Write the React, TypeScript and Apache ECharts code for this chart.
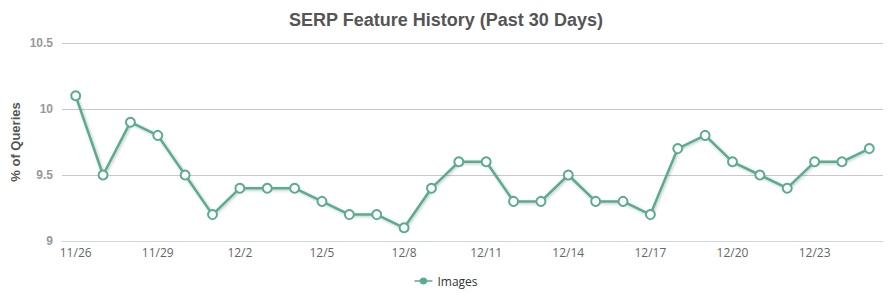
import React, { useEffect, useRef } from "react";
import * as echarts from "echarts";

const dates = [
  "11/26", "11/27", "11/28", "11/29", "11/30", "12/1", "12/2", "12/3", "12/4", "12/5",
  "12/6", "12/7", "12/8", "12/9", "12/10", "12/11", "12/12", "12/13", "12/14", "12/15",
  "12/16", "12/17", "12/18", "12/19", "12/20", "12/21", "12/22", "12/23", "12/24", "12/25",
];
const imagesValues = [
  10.1, 9.5, 9.9, 9.8, 9.5, 9.2, 9.4, 9.4, 9.4, 9.3,
  9.2, 9.2, 9.1, 9.4, 9.6, 9.6, 9.3, 9.3, 9.5, 9.3,
  9.3, 9.2, 9.7, 9.8, 9.6, 9.5, 9.4, 9.6, 9.6, 9.7,
];
const seriesName = "Images";
const titleText = "SERP Feature History (Past 30 Days)";
const yAxisTitle = "% of Queries";

const GREEN = "#5aac8c";
const LEGEND_ICON =
  "path://M0,4.2 L5.2,4.2 A4,4 0 0 1 12.8,4.2 L18,4.2 L18,5.8 L12.8,5.8 A4,4 0 0 1 5.2,5.8 L0,5.8 Z";

export default function App() {
  const ref = useRef<HTMLDivElement>(null);
  useEffect(() => {
    if (!ref.current) return;
    const chart = echarts.init(ref.current, null, { renderer: "svg" });
    chart.setOption({
      animation: false,
      title: {
        text: titleText,
        left: "center",
        top: -2,
        textStyle: {
          fontFamily: "Liberation Sans, Arial, sans-serif",
          fontSize: 18,
          fontWeight: "bold",
          color: "#555555",
        },
      },
      legend: {
        bottom: 4,
        left: "center",
        itemWidth: 18,
        itemHeight: 10,
        itemGap: 6,
        data: [
          {
            name: seriesName,
            icon: LEGEND_ICON,
            itemStyle: { color: GREEN, borderWidth: 0 },
          },
        ],
        textStyle: {
          fontFamily: "Open Sans, Arial, sans-serif",
          fontSize: 12,
          color: "#333333",
        },
      },
      grid: {
        left: 54,
        right: 1,
        top: 35,
        bottom: 55,
        containLabel: false,
        outerBoundsMode: "none",
      },
      xAxis: {
        type: "category",
        data: dates,
        boundaryGap: true,
        axisLine: { lineStyle: { color: "#ccd6eb" } },
        axisTick: {
          alignWithLabel: true,
          interval: 2,
          length: 10,
          lineStyle: { color: "#ccd6eb" },
        },
        axisLabel: {
          interval: 2,
          margin: 5,
          fontFamily: "Open Sans, Arial, sans-serif",
          fontSize: 12,
          color: "#666666",
        },
      },
      yAxis: {
        type: "value",
        min: 9,
        max: 10.5,
        interval: 0.5,
        name: yAxisTitle,
        nameLocation: "middle",
        nameGap: 40,
        nameMoveOverlap: false,
        nameTextStyle: {
          fontFamily: "Liberation Sans, Arial, sans-serif",
          fontSize: 13,
          fontWeight: "bold",
          color: "#555555",
        },
        axisLine: { show: false },
        axisTick: { show: false },
        splitLine: { lineStyle: { color: "#c8c8c8" } },
        axisLabel: {
          margin: 9,
          fontFamily: "Liberation Sans, Arial, sans-serif",
          fontSize: 12,
          fontWeight: "bold",
          color: "#999999",
        },
      },
      series: [
        {
          name: seriesName,
          type: "line",
          data: imagesValues,
          symbol: "circle",
          symbolSize: 9,
          itemStyle: { color: "#ffffff", borderColor: GREEN, borderWidth: 2 },
          lineStyle: {
            color: GREEN,
            width: 2.5,
            shadowColor: "rgba(0,0,0,0.25)",
            shadowBlur: 3,
            shadowOffsetX: 1,
            shadowOffsetY: 1,
          },
        },
      ],
    });
    return () => chart.dispose();
  }, []);
  return <div ref={ref} style={{ width: 876, height: 288 }} />;
}
